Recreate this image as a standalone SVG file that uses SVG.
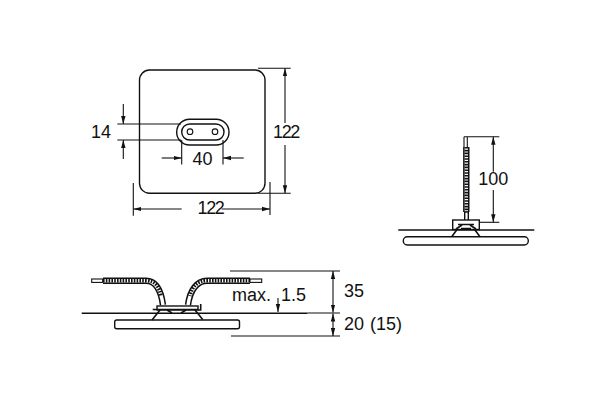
<svg xmlns="http://www.w3.org/2000/svg" width="600" height="401" viewBox="0 0 600 401">
<defs>
<marker id="a" viewBox="0 0 8 6" refX="8" refY="3" markerWidth="8" markerHeight="6" markerUnits="userSpaceOnUse" orient="auto-start-reverse"><path d="M0 0.8L8 3L0 5.2z" fill="#111"/></marker>
</defs>
<style>
.l{fill:none;stroke:#111;stroke-width:1.1}
.o{fill:#fff;stroke:#111;stroke-width:1.4}
.d{fill:none;stroke:#111;stroke-width:1.1;marker-end:url(#a)}
.p{fill:none;stroke:#111;stroke-width:1.6}
.b{fill:none;stroke:#111;stroke-width:6.4}
.w{fill:none;stroke:#fff;stroke-width:3.4}
.r{fill:none;stroke:#111;stroke-width:3.6;stroke-dasharray:1.6 1.2}
.n{letter-spacing:-1.4px}
text{font-family:"Liberation Sans",Arial,sans-serif;font-size:18px;fill:#111}
</style>
<g id="plate">
<rect class="o" x="139.5" y="70" width="125.5" height="123.3" rx="10"/>
<rect class="o" x="176.7" y="119.3" width="52.3" height="25.7" rx="12.8"/>
<rect class="o" x="181.7" y="124" width="42.300" height="16" rx="8"/>
<circle class="l" cx="190" cy="131.7" r="2.8"/>
<circle class="l" cx="215" cy="131.7" r="2.8"/>
</g>
<g id="plate-dimensions">
<path class="l" d="M117.300 124H181M117.300 140H181"/>
<path class="d" d="M123.300 104V124"/>
<path class="d" d="M123.300 159V140"/>
<path class="l" d="M181.700 140V164.500M223 140V164.500"/>
<path class="d" d="M161.700 158H181.700"/>
<path class="d" d="M243.700 158H223"/>
<path class="l" d="M258 68.300H290.700M258 193.300H290.700"/>
<path class="d" d="M285 123V68.300"/>
<path class="d" d="M285 145V193.300"/>
<path class="l" d="M133.300 183V215.700M270 182V215"/>
<path class="d" d="M181.700 209H133.300"/>
<path class="d" d="M221.700 209H270"/>
<text x="91" y="138">14</text>
<text x="192.500" y="165">40</text>
<text class="n" x="286" y="138" text-anchor="middle">122</text>
<text class="n" x="210.500" y="213.500" text-anchor="middle">122</text>
</g>
<g id="bottom-view">
<path class="p" d="M81.700 313.300H307.500"/>
<path class="l" d="M307.500 313H340"/>
<rect class="o" x="114.700" y="320" width="124.800" height="8.700" rx="2"/>
<rect class="l" x="91.700" y="279" width="11" height="3.400"/>
<rect class="l" x="250" y="279" width="11.700" height="3.400"/>
<path class="b" d="M103 280.700H146C156 280.700 161 290 163 305"/>
<path class="w" d="M103 280.700H146C156 280.700 161 290 163 305"/>
<path class="r" d="M103 280.700H146C156 280.700 159 287 161 296"/>
<path class="b" d="M250 280.700H207C197 280.700 190 290 188 305"/>
<path class="w" d="M250 280.700H207C197 280.700 190 290 188 305"/>
<path class="r" d="M250 280.700H207C197 280.700 192 287 190 296"/>
<rect class="o" x="157" y="306" width="41" height="4"/>
<path class="p" d="M152.700 309.500H198M200.700 304V310H198M160 310L152 320M195 310L202.700 319.500M167 310L172 313M186 310L181 313"/>
</g>
<g id="bottom-dimensions">
<path class="l" d="M230 271H340M231 336H340"/>
<path class="d" d="M333 291V271"/>
<path class="d" d="M333 291V312.500"/>
<path class="d" d="M333 325V313.500"/>
<path class="d" d="M333 325V336"/>
<path class="d" d="M278 298V312"/>
<text x="232" y="301" word-spacing="5">max. 1.5</text>
<text x="344" y="297">35</text>
<text x="344" y="329.500" word-spacing="1">20 (15)</text>
</g>
<g id="side-view">
<path class="p" d="M398.300 230H534.300"/>
<rect class="o" x="403.300" y="236.700" width="125" height="8.300" rx="4"/>
<path class="l" d="M464 136.700H499.300M464 136.700V147M467.300 136.700V147"/>
<path class="b" d="M466.300 147V212"/>
<path class="w" d="M466.300 147V212"/>
<path class="r" d="M466.300 147V212"/>
<rect class="o" x="464.700" y="212" width="3.600" height="10"/>
<rect class="o" x="452.700" y="220" width="26.600" height="9.500"/>
<path class="p" d="M458 224.500H474M456 229L462 225M476 229L470 225M461 228.500H471"/>
<path class="p" d="M456.700 230L451.700 236.700M475 230L480 236.700"/>
<path class="l" d="M479.300 222.300H499.300"/>
<path class="d" d="M493.300 171.700V136.700"/>
<path class="d" d="M493.300 190V222.300"/>
<text x="493.300" y="185" text-anchor="middle">100</text>
</g>
</svg>
